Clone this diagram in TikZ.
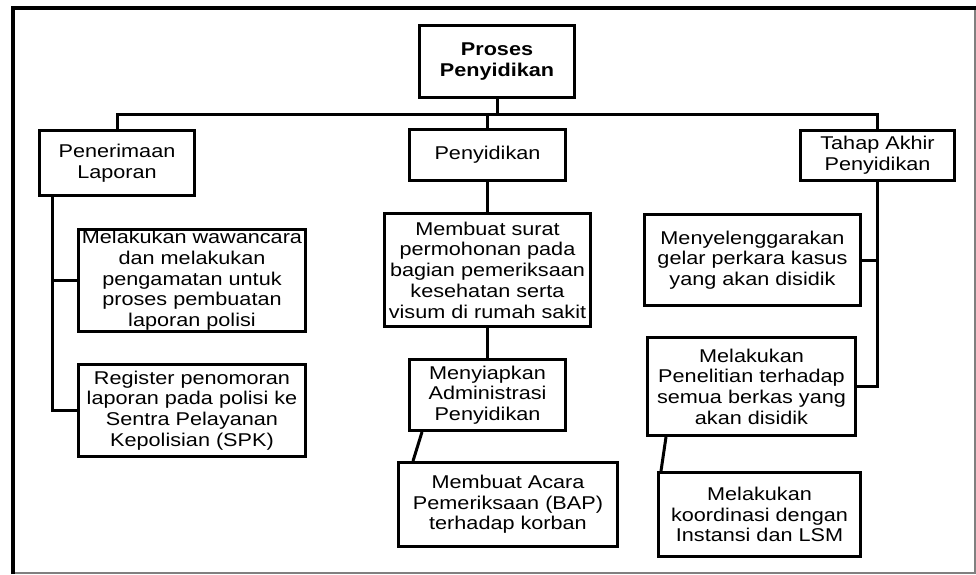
\documentclass[tikz,border=0pt]{standalone}
\usepackage{fontspec}
\setmainfont{Liberation Sans}[FakeStretch=1.17]
\begin{document}
\begin{tikzpicture}[x=1pt,y=-1pt,
  box/.style={draw, line width=3pt, align=center, inner sep=0pt,
    font=\fontsize{18.5}{20.7}\selectfont},
  boldbox/.style={box, font=\fontsize{18.5}{20.7}\selectfont\bfseries},
  conn/.style={line width=3pt},
  frame/.style={line width=4pt},
  thinframe/.style={line width=1.2pt, draw=gray}]
\useasboundingbox (0,0) rectangle (976,574);
% frame
\draw[frame] (13,574) -- (13,8) -- (976,8);
\draw[thinframe] (975,10) -- (975,574);
\draw[thinframe] (15,573) -- (976,573);
% nodes
\node[boldbox, minimum width=155, minimum height=72] (root) at (497,61.5) {Proses\\Penyidikan};
\node[box, minimum width=155, minimum height=65] (pen) at (117,163) {Penerimaan\\Laporan};
\node[box, minimum width=156, minimum height=51] (pny) at (487.5,155) {Penyidikan};
\node[box, minimum width=154, minimum height=50] (tah) at (877.5,155.5) {Tahap Akhir\\Penyidikan};
\node[box, minimum width=227, minimum height=102] (mw) at (192,280.5) {Melakukan wawancara\\dan melakukan\\pengamatan untuk\\proses pembuatan\\laporan polisi};
\node[box, minimum width=227, minimum height=92] (reg) at (192,410.5) {Register penomoran\\laporan pada polisi ke\\Sentra Pelayanan\\Kepolisian (SPK)};
\node[box, minimum width=206, minimum height=113] (ms) at (487.5,270) {Membuat surat\\permohonan pada\\bagian pemeriksaan\\kesehatan serta\\visum di rumah sakit};
\node[box, minimum width=156, minimum height=71] (men) at (487.5,395) {Menyiapkan\\Administrasi\\Penyidikan};
\node[box, minimum width=219, minimum height=84] (bap) at (508,504.5) {Membuat Acara\\Pemeriksaan (BAP)\\terhadap korban};
\node[box, minimum width=216, minimum height=91] (mgk) at (752.5,260) {Menyelenggarakan\\gelar perkara kasus\\yang akan disidik};
\node[box, minimum width=208, minimum height=98] (mp) at (751.5,386.5) {Melakukan\\Penelitian terhadap\\semua berkas yang\\akan disidik};
\node[box, minimum width=202, minimum height=84] (mk) at (759.5,514.5) {Melakukan\\koordinasi dengan\\Instansi dan LSM};
% connectors
\draw[conn] (root.south) -- ++(0,15.5) coordinate (busc);
\draw[conn] (pen.north) |- (busc) -| (tah.north);
\draw[conn] (pny.north) -- (pny.north |- busc);
\coordinate (penL) at ([xshift=14pt]pen.south west);
\draw[conn] (penL) |- (mw.west);
\draw[conn] (penL) |- (reg.west);
\draw[conn] (pny) -- (ms);
\draw[conn] (ms) -- (men);
\draw[conn] ([xshift=14pt]men.south west) -- ([xshift=16pt]bap.north west);
\draw[conn] (tah.south) |- (mgk.east);
\draw[conn] (tah.south) |- (mp.east);
\draw[conn] ([xshift=20pt]mp.south west) -- ([xshift=4pt]mk.north west);
\end{tikzpicture}
\end{document}
